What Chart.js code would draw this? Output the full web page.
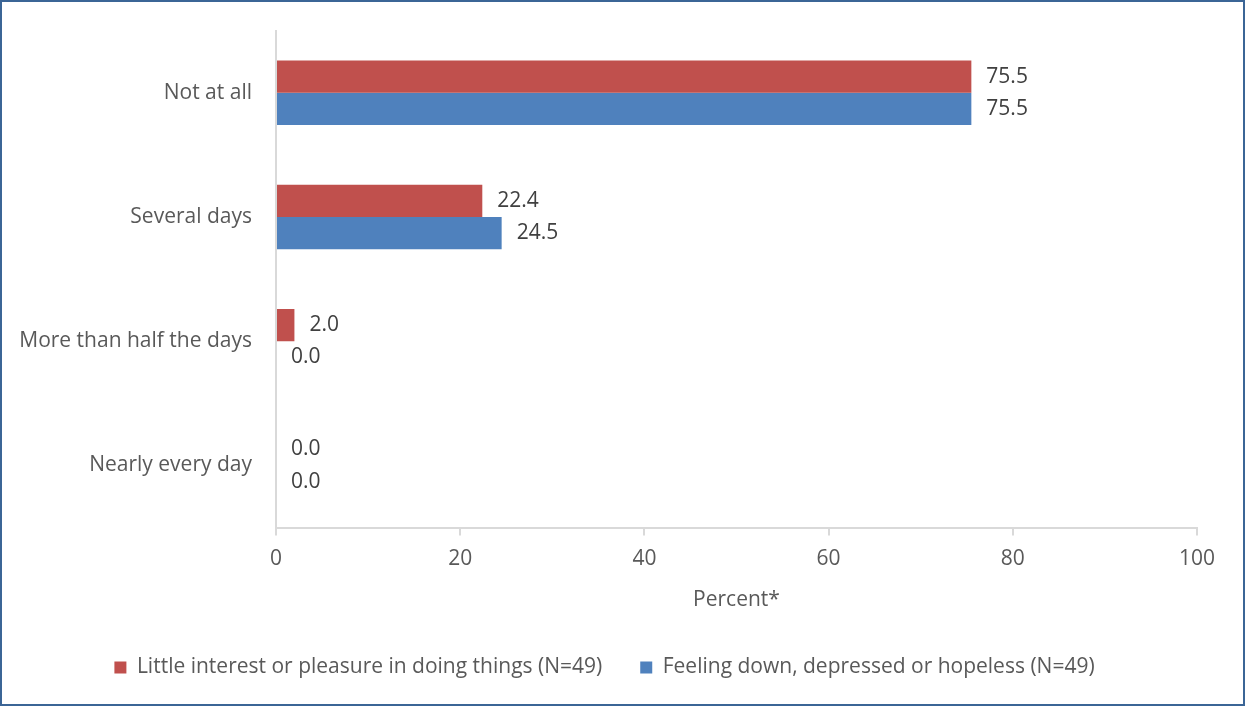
<!DOCTYPE html>
<html>
<head>
<meta charset="utf-8">
<script src="https://cdn.jsdelivr.net/npm/chart.js@4"></script>
<style>
    body { margin: 0; background: #fff; }
    #frame {
        width: 1245px; height: 706px; box-sizing: border-box;
        border: 2px solid #3b6596; background: #fff;
    }
    #wrap { position: relative; width: 1241px; height: 702px; }
</style>
</head>
<body>
<div id="frame"><div id="wrap"><canvas id="chart"></canvas></div></div>
<script>
const categories = ["Not at all", "Several days", "More than half the days", "Nearly every day"];
const littleInterest = [75.5, 22.4, 2.0, 0.0];
const feelingDown = [75.5, 24.5, 0.0, 0.0];
const seriesNames = [
    "Little interest or pleasure in doing things (N=49)",
    "Feeling down, depressed or hopeless (N=49)"
];
const xTicks = [0, 20, 40, 60, 80, 100];

const FONT = "'Open Sans', 'Noto Sans', sans-serif";
const SIZE = 21;
const GRAY = "#d9d9d9";

// values written just after the end of each bar
const valueLabels = {
    id: 'valueLabels',
    afterDatasetsDraw(chart) {
        const ctx = chart.ctx;
        ctx.save();
        ctx.font = SIZE + "px " + FONT;
        ctx.fillStyle = "#404040";
        ctx.textAlign = "left";
        ctx.textBaseline = "middle";
        chart.data.datasets.forEach((ds, i) => {
            chart.getDatasetMeta(i).data.forEach((bar, j) => {
                ctx.fillText(ds.data[j].toFixed(1), bar.x + 15, bar.y);
            });
        });
        ctx.restore();
    }
};

const ctx = document.getElementById('chart').getContext('2d');
const chart = new Chart(ctx, {
    type: 'bar',
    data: {
        labels: categories,
        datasets: [
            {
                label: seriesNames[0],
                data: littleInterest,
                backgroundColor: "#c0504d",
                categoryPercentage: 0.52,
                barPercentage: 1.0
            },
            {
                label: seriesNames[1],
                data: feelingDown,
                backgroundColor: "#4f81bd",
                categoryPercentage: 0.52,
                barPercentage: 1.0
            }
        ]
    },
    options: {
        indexAxis: 'y',
        responsive: true,
        maintainAspectRatio: false,
        animation: false,
        layout: { padding: { top: 27, right: 46, bottom: 16, left: 10 } },
        scales: {
            x: {
                min: 0,
                max: 100,
                afterBuildTicks(axis) { axis.ticks = xTicks.map(v => ({ value: v })); },
                grid: { drawOnChartArea: false, color: GRAY, tickLength: 8, lineWidth: 2 },
                border: { color: GRAY, width: 2 },
                ticks: { color: "#595959", font: { family: FONT, size: SIZE }, padding: 11 },
                title: {
                    display: true, text: "Percent*", color: "#595959",
                    font: { family: FONT, size: SIZE }, padding: { top: 5, bottom: 6 }
                }
            },
            y: {
                grid: { display: false },
                border: { color: GRAY, width: 2 },
                ticks: { color: "#595959", font: { family: FONT, size: SIZE }, padding: 16 },
                afterFit(axis) { axis.width = 264; }
            }
        },
        plugins: {
            legend: {
                position: 'bottom',
                labels: {
                    color: "#595959",
                    font: { family: FONT, size: SIZE },
                    boxWidth: 12, boxHeight: 12,
                    padding: 38
                }
            },
            tooltip: { enabled: false }
        }
    },
    plugins: [valueLabels]
});
</script>
</body>
</html>
